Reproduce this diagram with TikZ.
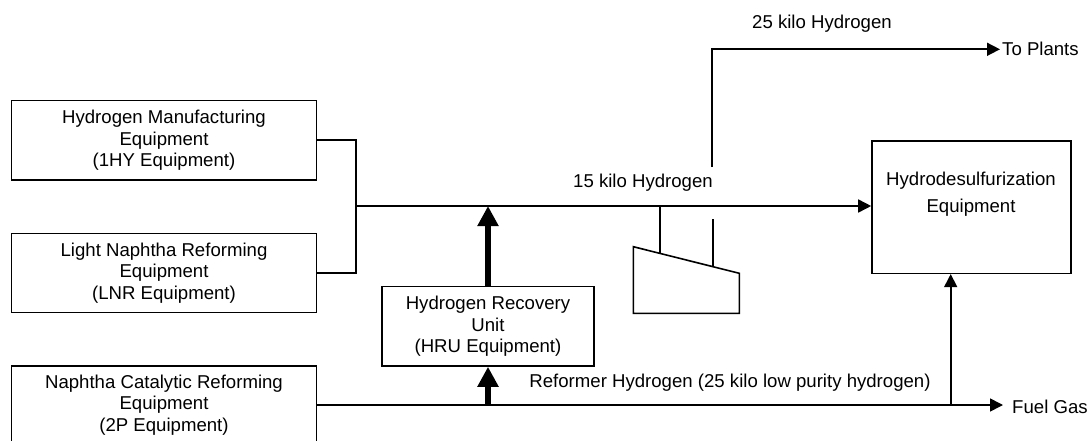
\documentclass[tikz,border=0pt]{standalone}
\usepackage{fontspec}
\setmainfont{Liberation Sans}
\usetikzlibrary{arrows.meta,calc}
\begin{document}
\begin{tikzpicture}[x=1pt,y=-1pt,
  every node/.style={font=\fontsize{18.6}{21.5}\selectfont},
  unit/.style={draw,line width=1.6pt,rectangle,align=center,inner sep=0pt},
  lbl/.style={inner sep=0pt},
  flow/.style={line width=1.6pt},
  flowarr/.style={line width=1.6pt,-{Triangle[length=13pt,width=13pt]}},
  thickarr/.style={line width=6pt,-{Triangle[length=20pt,width=20pt]}}]
\useasboundingbox (0,0) rectangle (1089,441);
\clip (0,0) rectangle (1089,441);
% units
\node[unit,minimum width=305pt,minimum height=79.3pt] (hy) at (164,140.3)
  {Hydrogen Manufacturing\\Equipment\\(1HY Equipment)};
\node[unit,minimum width=305pt,minimum height=79pt] (lnr) at (164,273)
  {Light Naphtha Reforming\\Equipment\\(LNR Equipment)};
\node[unit,minimum width=305pt,minimum height=78pt] (ncr) at (164,405)
  {Naphtha Catalytic Reforming\\Equipment\\(2P Equipment)};
\node[unit,minimum width=212pt,minimum height=79.3pt] (hru) at (488,326.3)
  {Hydrogen Recovery\\Unit\\(HRU Equipment)};
\node[unit,minimum width=199pt,minimum height=132.6pt] (hds) at (971.5,207) {};
\node[lbl,align=center] (hdst) at (971,194)
  {Hydrodesulfurization\\[6pt]Equipment};
% compressor
\draw[flow,line join=miter] (633.3,246.7) -- (739.3,273.3) -- (739.3,313.3) -- (633.3,313.3) -- cycle;
% coordinates
\coordinate (j) at (356,206);
\coordinate (cin) at (660,206);
\coordinate (cinb) at (660,253.4);
\coordinate (cout) at (712.7,266.6);
\coordinate (couttop) at (712.7,219);
\coordinate (up1) at (711.7,167);
\coordinate (up2) at (711.7,49.3);
\coordinate (tp) at (1000,49.3);
\coordinate (fg) at (1003,405);
\coordinate (hdsin) at (950.7,405);
% connectors
\draw[flow] (hy.east) -| (j) |- (lnr.east);
\draw[flowarr] (j) -- (j -| hds.west);
\draw[thickarr] (hru.north) -- (hru.north |- j);
\draw[flow] (cin) -- (cinb);
\draw[flow] (couttop) -- (cout);
\draw[flowarr] (up1) -- (up2) -- (tp);
\draw[flowarr] (ncr.east |- fg) -- (fg);
\draw[thickarr] (hru.south |- fg) -- (hru.south);
\draw[flowarr] (hdsin) -- (hdsin |- hds.south);
% labels
\node[lbl,anchor=west] (tpl) at (1002,49) {To Plants};
\node[lbl,anchor=west] (fgl) at (1012,406.5) {Fuel Gas};
\node[lbl] (l25) at (822,24) {25 kilo Hydrogen};
\node[lbl] (l15) at (643,183) {15 kilo Hydrogen};
\node[lbl] (lref) at (730,383) {Reformer Hydrogen (25 kilo low purity hydrogen)};
\end{tikzpicture}
\end{document}
